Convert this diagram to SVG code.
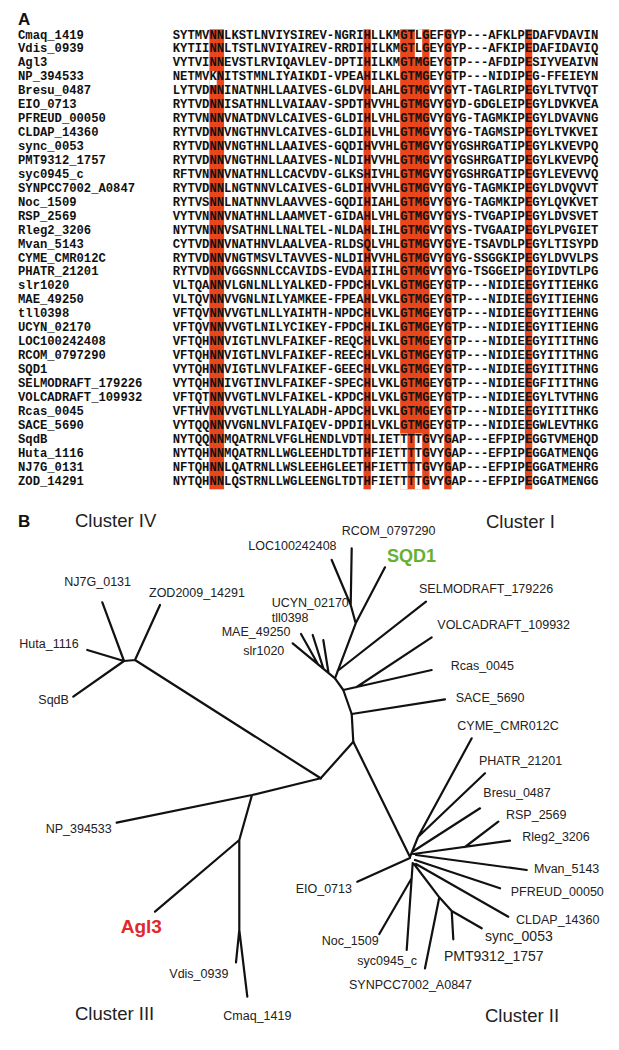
<svg xmlns="http://www.w3.org/2000/svg" width="619" height="1050" viewBox="0 0 619 1050">
<style>
.nm{font-family:"Liberation Mono","Courier New",monospace;font-weight:bold;font-size:12.2px;fill:#111}
.sq{font-family:"Liberation Mono","Courier New",monospace;font-weight:bold;font-size:12.23px;fill:#111}
.hl{fill:#EA461B}
.gap{fill:#fff}
.pl{font-family:"Liberation Sans",Arial,sans-serif;font-weight:bold;font-size:17px;fill:#111}
.cl{font-family:"Liberation Sans",Arial,sans-serif;font-size:18.5px;fill:#222}
.lf{font-family:"Liberation Sans",Arial,sans-serif;font-size:12.5px;fill:#222}
.lf14{font-family:"Liberation Sans",Arial,sans-serif;font-size:14px;fill:#222}
.br{fill:none;stroke:#111;stroke-width:2.2;stroke-linecap:round;stroke-linejoin:round}
</style>
<rect width="619" height="1050" fill="#fff"/>
<text class="pl" x="18" y="25">A</text>
<g id="highlights">
<rect class="hl" x="209.39" y="29.3" width="14.68" height="460"/>
<rect class="hl" x="363.49" y="29.3" width="7.34" height="460"/>
<rect class="hl" x="400.18" y="29.3" width="29.35" height="460"/>
<rect class="hl" x="444.21" y="29.3" width="7.34" height="460"/>
<rect class="hl" x="524.92" y="29.3" width="7.34" height="460"/>
<rect class="gap" x="209.39" y="71.12" width="7.34" height="13.94"/>
<rect class="gap" x="414.85" y="29.3" width="7.34" height="27.88"/>
<rect class="gap" x="400.18" y="433.56" width="7.34" height="55.76"/>
<rect class="gap" x="414.85" y="433.56" width="7.34" height="55.76"/>
</g>
<g id="alignment">
<g id="r0"><text class="nm" x="18" y="38.5">Cmaq_1419</text><text class="sq" x="172.7" y="38.5" textLength="425.6">SYTMVNNLKSTLNVIYSIREV-NGRIHLLKMGTLGEFGYP---AFKLPEDAFVDAVIN</text></g>
<g id="r1"><text class="nm" x="18" y="52.44">Vdis_0939</text><text class="sq" x="172.7" y="52.44" textLength="425.6">KYTIINNLTSTLNVIYAIREV-RRDIHILKMGTLGEYGYP---AFKIPEDAFIDAVIQ</text></g>
<g id="r2"><text class="nm" x="18" y="66.38">Agl3</text><text class="sq" x="172.7" y="66.38" textLength="425.6">VYTVINNEVSTLRVIQAVLEV-DPTIHILKMGTMGEYGTP---AFDIPESIYVEAIVN</text></g>
<g id="r3"><text class="nm" x="18" y="80.32">NP_394533</text><text class="sq" x="172.7" y="80.32" textLength="425.6">NETMVKNITSTMNLIYAIKDI-VPEAHILKLGTMGEYGTP---NIDIPEG-FFEIEYN</text></g>
<g id="r4"><text class="nm" x="18" y="94.26">Bresu_0487</text><text class="sq" x="172.7" y="94.26" textLength="425.6">LYTVDNNINATNHLLAAIVES-GLDVHLAHLGTMGVYGYT-TAGLRIPEGYLTVTVQT</text></g>
<g id="r5"><text class="nm" x="18" y="108.2">EIO_0713</text><text class="sq" x="172.7" y="108.2" textLength="425.6">RYTVDNNISATHNLLVAIAAV-SPDTHVVHLGTMGVYGYD-GDGLEIPEGYLDVKVEA</text></g>
<g id="r6"><text class="nm" x="18" y="122.14">PFREUD_00050</text><text class="sq" x="172.7" y="122.14" textLength="425.6">RYTVNNNVNATDNVLCAIVES-GLDIHLVHLGTMGVYGYG-TAGMKIPEGYLDVAVNG</text></g>
<g id="r7"><text class="nm" x="18" y="136.08">CLDAP_14360</text><text class="sq" x="172.7" y="136.08" textLength="425.6">RYTVDNNVNGTHNVLCAIVES-GLDIHLVHLGTMGVYGYG-TAGMSIPEGYLTVKVEI</text></g>
<g id="r8"><text class="nm" x="18" y="150.02">sync_0053</text><text class="sq" x="172.7" y="150.02" textLength="425.6">RYTVDNNVNGTHNLLAAIVES-GQDIHVVHLGTMGVYGYGSHRGATIPEGYLKVEVPQ</text></g>
<g id="r9"><text class="nm" x="18" y="163.96">PMT9312_1757</text><text class="sq" x="172.7" y="163.96" textLength="425.6">RYTVDNNVNGTHNLLAAIVES-NLDIHVVHLGTMGVYGYGSHRGATIPEGYLKVEVPQ</text></g>
<g id="r10"><text class="nm" x="18" y="177.9">syc0945_c</text><text class="sq" x="172.7" y="177.9" textLength="425.6">RFTVNNNVNATHNLLCACVDV-GLKSHIVHLGTMGVYGYGSHRGATIPEGYLEVEVVQ</text></g>
<g id="r11"><text class="nm" x="18" y="191.84">SYNPCC7002_A0847</text><text class="sq" x="172.7" y="191.84" textLength="425.6">RYTVDNNLNGTNNVLCAIVES-GLDIHVVHLGTMGVYGYG-TAGMKIPEGYLDVQVVT</text></g>
<g id="r12"><text class="nm" x="18" y="205.78">Noc_1509</text><text class="sq" x="172.7" y="205.78" textLength="425.6">RYTVSNNLNATNNVLAAVVES-GQDIHIAHLGTMGVYGYG-TAGMKIPEGYLQVKVET</text></g>
<g id="r13"><text class="nm" x="18" y="219.72">RSP_2569</text><text class="sq" x="172.7" y="219.72" textLength="425.6">VYTVNNNVNATHNLLAAMVET-GIDAHLVHLGTMGVYGYS-TVGAPIPEGYLDVSVET</text></g>
<g id="r14"><text class="nm" x="18" y="233.66">Rleg2_3206</text><text class="sq" x="172.7" y="233.66" textLength="425.6">NYTVNNNVSATHNLLNALTEL-NLDAHLIHLGTMGVYGYS-TVGAAIPEGYLPVGIET</text></g>
<g id="r15"><text class="nm" x="18" y="247.6">Mvan_5143</text><text class="sq" x="172.7" y="247.6" textLength="425.6">CYTVDNNVNATHNVLAALVEA-RLDSQLVHLGTMGVYGYE-TSAVDLPEGYLTISYPD</text></g>
<g id="r16"><text class="nm" x="18" y="261.54">CYME_CMR012C</text><text class="sq" x="172.7" y="261.54" textLength="425.6">RYTVDNNVNGTMSVLTAVVES-NLDIHVVHLGTMGVYGYG-SSGGKIPEGYLDVVLPS</text></g>
<g id="r17"><text class="nm" x="18" y="275.48">PHATR_21201</text><text class="sq" x="172.7" y="275.48" textLength="425.6">RYTVDNNVGGSNNLCCAVIDS-EVDAHIIHLGTMGVYGYG-TSGGEIPEGYIDVTLPG</text></g>
<g id="r18"><text class="nm" x="18" y="289.42">slr1020</text><text class="sq" x="172.7" y="289.42" textLength="425.6">VLTQANNVLGNLNLLYALKED-FPDCHLVKLGTMGEYGTP---NIDIEEGYITIEHKG</text></g>
<g id="r19"><text class="nm" x="18" y="303.36">MAE_49250</text><text class="sq" x="172.7" y="303.36" textLength="425.6">VLTQVNNVVGNLNILYAMKEE-FPEAHLVKLGTMGEYGTP---NIDIEEGYITIEHNG</text></g>
<g id="r20"><text class="nm" x="18" y="317.3">tll0398</text><text class="sq" x="172.7" y="317.3" textLength="425.6">VFTQVNNVVGTLNLLYAIHTH-NPDCHLVKLGTMGEYGTP---NIDIEEGYITIEHNG</text></g>
<g id="r21"><text class="nm" x="18" y="331.24">UCYN_02170</text><text class="sq" x="172.7" y="331.24" textLength="425.6">VFTQVNNVVGTLNILYCIKEY-FPDCHLIKLGTMGEYGTP---NIDIEEGYITIEHNG</text></g>
<g id="r22"><text class="nm" x="18" y="345.18">LOC100242408</text><text class="sq" x="172.7" y="345.18" textLength="425.6">VFTQHNNVIGTLNVLFAIKEF-REQCHLVKLGTMGEYGTP---NIDIEEGYITITHNG</text></g>
<g id="r23"><text class="nm" x="18" y="359.12">RCOM_0797290</text><text class="sq" x="172.7" y="359.12" textLength="425.6">VFTQHNNVIGTLNVLFAIKEF-REECHLVKLGTMGEYGTP---NIDIEEGYITITHNG</text></g>
<g id="r24"><text class="nm" x="18" y="373.06">SQD1</text><text class="sq" x="172.7" y="373.06" textLength="425.6">VYTQHNNVIGTLNVLFAIKEF-GEECHLVKLGTMGEYGTP---NIDIEEGYITITHNG</text></g>
<g id="r25"><text class="nm" x="18" y="387">SELMODRAFT_179226</text><text class="sq" x="172.7" y="387" textLength="425.6">VYTQHNNIVGTINVLFAIKEF-SPECHLVKLGTMGEYGTP---NIDIEEGFITITHNG</text></g>
<g id="r26"><text class="nm" x="18" y="400.94">VOLCADRAFT_109932</text><text class="sq" x="172.7" y="400.94" textLength="425.6">VFTQTNNVVGTLNVLFAIKEL-KPDCHLVKLGTMGEYGTP---NIDIEEGYLTVTHNG</text></g>
<g id="r27"><text class="nm" x="18" y="414.88">Rcas_0045</text><text class="sq" x="172.7" y="414.88" textLength="425.6">VFTHVNNVVGTLNLLYALADH-APDCHLVKLGTMGEYGTP---NIDIEEGYITITHKG</text></g>
<g id="r28"><text class="nm" x="18" y="428.82">SACE_5690</text><text class="sq" x="172.7" y="428.82" textLength="425.6">VYTQQNNVVGNLNVLFAIQEV-DPDIHLVKLGTMGEYGTP---NIDIEEGWLEVTHKG</text></g>
<g id="r29"><text class="nm" x="18" y="442.76">SqdB</text><text class="sq" x="172.7" y="442.76" textLength="425.6">NYTQQNNMQATRNLVFGLHENDLVDTHLIETTTTGVYGAP---EFPIPEGGTVMEHQD</text></g>
<g id="r30"><text class="nm" x="18" y="456.7">Huta_1116</text><text class="sq" x="172.7" y="456.7" textLength="425.6">NYTQHNNMQATRNLLWGLEEHDLTDTHFIETTTTGVYGAP---EFPIPEGGATMENQG</text></g>
<g id="r31"><text class="nm" x="18" y="470.64">NJ7G_0131</text><text class="sq" x="172.7" y="470.64" textLength="425.6">NFTQHNNLQATRNLLWSLEEHGLEETHFIETTTTGVYGAP---EFPIPEGGATMEHRG</text></g>
<g id="r32"><text class="nm" x="18" y="484.58">ZOD_14291</text><text class="sq" x="172.7" y="484.58" textLength="425.6">NYTQHNNLQSTRNLLWGLEENGLTDTHFIETTTTGVYGAP---EFPIPEGGATMENGG</text></g>
</g>
<text class="pl" x="18" y="527">B</text>
<g id="cluster-labels">
<text class="cl" x="75" y="527">Cluster IV</text>
<text class="cl" x="486" y="528">Cluster I</text>
<text class="cl" x="75" y="1020">Cluster III</text>
<text class="cl" x="485" y="1022">Cluster II</text>
</g>
<g id="connectors">
<path class="br" d="M102.3,602.3L124,661M87.3,650L124,661M73.3,696.7L124,661L135,660M160,605L135,660L320.7,778.3"/>
<path class="br" d="M320.7,778.3L353.3,741.7L351.7,714L343.3,690L335,678.3L355.7,623.3L350.7,605L351.7,548.3M350.7,605L331.7,560M355.7,623.3L385,567.3M337.5,671L426,601.7"/>
<path class="br" d="M292.7,643.3L335,678.3M301,634L318,664.2M312.7,635L323.5,668.8M323.3,640L328.5,672.9"/>
<path class="br" d="M343.3,690L431.7,670M356.7,687L431.7,637.3M351.7,714L445,699.3"/>
<path class="br" d="M353.3,741.7L410,857M410,857L418,837L471.7,738.3M418,837L485,773.3M412,852L480,808.3M413.3,854L510,840.7M465,847L498.3,821.7M416,855L526.7,870M415,860L500,888.3M416,864L508.3,916.7M414,864L439.3,897.3L451.7,911L481.7,928.3M451.7,911L453.3,939.3M439.3,897.3L425,968.3M412.7,863L406.7,950M411.8,878L379.3,934M410,858L357.3,881.7"/>
<path class="br" d="M320.7,778.3L252,795L116.7,822.7M252,795L239.3,840L155,911.7M239.3,840L239.3,930L236,962.3M239.3,930L247.3,996.7"/>
</g>
<g id="leaves">
<g id="n-NJ7G_0131"><text class="lf" x="64.3" y="586">NJ7G_0131</text></g>
<g id="n-ZOD2009_14291"><text class="lf" x="149" y="597">ZOD2009_14291</text></g>
<g id="n-Huta_1116"><text class="lf" x="19.3" y="648">Huta_1116</text></g>
<g id="n-SqdB"><text class="lf" x="38.3" y="704">SqdB</text></g>
<g id="n-LOC100242408"><text class="lf" x="248.3" y="550">LOC100242408</text></g>
<g id="n-RCOM_0797290"><text class="lf" x="341.7" y="535">RCOM_0797290</text></g>
<g id="n-SQD1"><text x="387" y="562" style="font-family:'Liberation Sans',Arial,sans-serif;font-weight:bold;font-size:18px;fill:#66B032">SQD1</text></g>
<g id="n-SELMODRAFT_179226"><text class="lf" x="419" y="593">SELMODRAFT_179226</text></g>
<g id="n-VOLCADRAFT_109932"><text class="lf" x="437.3" y="629">VOLCADRAFT_109932</text></g>
<g id="n-Rcas_0045"><text class="lf" x="450.7" y="670">Rcas_0045</text></g>
<g id="n-SACE_5690"><text class="lf" x="455.7" y="702">SACE_5690</text></g>
<g id="n-UCYN_02170"><text class="lf" x="271.7" y="607">UCYN_02170</text></g>
<g id="n-tll0398"><text class="lf" x="271.7" y="621.5">tll0398</text></g>
<g id="n-MAE_49250"><text class="lf" x="221.7" y="636">MAE_49250</text></g>
<g id="n-slr1020"><text class="lf" x="243.3" y="655">slr1020</text></g>
<g id="n-CYME_CMR012C"><text class="lf" x="457.3" y="730">CYME_CMR012C</text></g>
<g id="n-PHATR_21201"><text class="lf" x="479" y="765">PHATR_21201</text></g>
<g id="n-Bresu_0487"><text class="lf" x="483.3" y="797">Bresu_0487</text></g>
<g id="n-RSP_2569"><text class="lf" x="506" y="819">RSP_2569</text></g>
<g id="n-Rleg2_3206"><text class="lf" x="522.3" y="841">Rleg2_3206</text></g>
<g id="n-Mvan_5143"><text class="lf" x="534" y="873">Mvan_5143</text></g>
<g id="n-PFREUD_00050"><text class="lf" x="510.7" y="896">PFREUD_00050</text></g>
<g id="n-CLDAP_14360"><text class="lf" x="516" y="924">CLDAP_14360</text></g>
<g id="n-sync_0053"><text class="lf14" x="485" y="941">sync_0053</text></g>
<g id="n-PMT9312_1757"><text class="lf14" x="444" y="961">PMT9312_1757</text></g>
<g id="n-EIO_0713"><text class="lf" x="295.7" y="893">EIO_0713</text></g>
<g id="n-Noc_1509"><text class="lf" x="321.7" y="945">Noc_1509</text></g>
<g id="n-syc0945_c"><text class="lf" x="357.3" y="965">syc0945_c</text></g>
<g id="n-SYNPCC7002_A0847"><text class="lf" x="349" y="989">SYNPCC7002_A0847</text></g>
<g id="n-NP_394533"><text class="lf" x="45.7" y="833">NP_394533</text></g>
<g id="n-Agl3"><text x="120.7" y="933" style="font-family:'Liberation Sans',Arial,sans-serif;font-weight:bold;font-size:19px;fill:#E02A2A">Agl3</text></g>
<g id="n-Vdis_0939"><text class="lf" x="169.3" y="978">Vdis_0939</text></g>
<g id="n-Cmaq_1419"><text class="lf" x="223.3" y="1020">Cmaq_1419</text></g>
</g>
</svg>
